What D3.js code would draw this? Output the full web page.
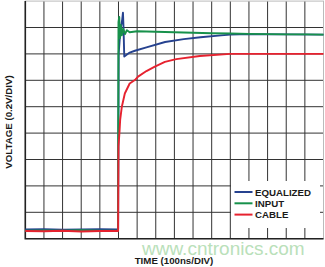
<!DOCTYPE html>
<html lang="en">
<head>
    <meta charset="UTF-8">
    <title>Equalized step response</title>
    <script src="https://d3js.org/d3.v7.min.js"></script>
    <style>
        body { margin: 0; background: #fff; }
        svg { display: block; }
        .lbl { font-family: "Liberation Sans", Arial, sans-serif; font-weight: bold; font-size: 9.7px; fill: #1a1a1a; }
    </style>
</head>
<body>
    <svg id="chart" width="325" height="267"></svg>

    <script>
    // time in divisions (100ns/div), voltage in divisions (0.2V/div)
    const equalized = [
        [0, 0.35], [1, 0.36], [2, 0.34], [3, 0.35], [4, 0.36], [4.98, 0.35],
        [5.01, 7.0], [5.1, 7.9], [5.2, 8.3], [5.24, 8.56], [5.27, 8.0], [5.31, 6.9],
        [5.4, 6.95], [5.6, 7.05], [5.88, 7.12], [6.5, 7.25], [7.5, 7.45], [8.5, 7.56],
        [9.4, 7.63], [10.5, 7.7], [11, 7.73], [12, 7.75], [14, 7.74], [16, 7.73]
    ];

    const input = [
        [0, 0.3], [1, 0.31], [2, 0.3], [3, 0.32], [4, 0.3], [4.97, 0.3],
        [5.0, 8.2], [5.04, 8.4], [5.08, 7.6], [5.12, 8.1], [5.18, 7.7], [5.25, 7.95],
        [5.35, 7.75], [5.45, 7.9], [5.6, 7.82], [6, 7.86], [7, 7.84], [8, 7.82],
        [9, 7.8], [10, 7.78], [11, 7.77], [12, 7.76], [13, 7.75], [14, 7.74],
        [15, 7.74], [16, 7.73]
    ];

    const cable = [
        [0, 0.29], [1, 0.28], [2, 0.3], [3, 0.27], [4, 0.29], [4.98, 0.29],
        [5.0, 3.5], [5.05, 4.0], [5.09, 4.5], [5.18, 5.0], [5.34, 5.5], [5.6, 5.88],
        [5.88, 6.01], [6.05, 6.14], [6.5, 6.35], [6.95, 6.52], [7.49, 6.7], [8.1, 6.8],
        [9.36, 6.92], [11, 7.0], [13, 7.0], [16, 7.0]
    ];

    const series = [
        {name: 'EQUALIZED', color: '#26428f', values: equalized},
        {name: 'INPUT', color: '#17914b', values: input},
        {name: 'CABLE', color: '#e6222f', values: cable}
    ];

    const xDivs = 16, yDivs = 9;

    const svg = d3.select('#chart');

    const x = d3.scaleLinear().domain([0, xDivs]).range([25.3, 323.5]);
    const y = d3.scaleLinear().domain([0, yDivs]).range([238.7, 1.1]);

    // graticule
    const grid = svg.append('g').attr('stroke', '#333').attr('stroke-width', 1);
    grid.selectAll('.vx')
        .data(d3.range(1, xDivs))
        .join('line')
        .attr('x1', d => x(d)).attr('x2', d => x(d))
        .attr('y1', y(yDivs)).attr('y2', y(0));
    grid.selectAll('.hy')
        .data(d3.range(1, yDivs))
        .join('line')
        .attr('y1', d => y(d)).attr('y2', d => y(d))
        .attr('x1', x(0)).attr('x2', x(xDivs));

    svg.append('rect')
        .attr('x', x(0)).attr('y', y(yDivs))
        .attr('width', x(xDivs) - x(0)).attr('height', y(0) - y(yDivs))
        .attr('fill', 'none').attr('stroke', '#bbb').attr('stroke-width', 1);
    // heavier left and bottom edges
    svg.append('path')
        .attr('d', `M${x(0)},${y(yDivs)}V${y(0)}H${x(xDivs)}`)
        .attr('fill', 'none').attr('stroke', '#222').attr('stroke-width', 1.6);

    const line = d3.line()
        .x(d => x(d[0]))
        .y(d => y(d[1]));

    svg.selectAll('.trace')
        .data(series)
        .join('path')
        .attr('class', 'trace')
        .attr('d', d => line(d.values))
        .attr('fill', 'none')
        .attr('stroke', d => d.color)
        .attr('stroke-width', 1.9)
        .attr('stroke-linejoin', 'round');

    // legend
    svg.append('rect')
        .attr('x', 231).attr('y', 181).attr('width', 89).attr('height', 47)
        .attr('fill', '#fff');
    const legend = svg.append('g')
        .selectAll('g')
        .data(series)
        .join('g')
        .attr('transform', (d, i) => `translate(0, ${192 + i * 11.3})`);
    legend.append('line')
        .attr('x1', 234.5).attr('x2', 252.5)
        .attr('stroke', d => d.color).attr('stroke-width', 2);
    legend.append('text')
        .attr('class', 'lbl')
        .attr('x', 255).attr('y', 3.6)
        .text(d => d.name);

    // axis titles
    svg.append('text')
        .attr('class', 'lbl')
        .attr('text-anchor', 'middle')
        .attr('x', 174).attr('y', 263.5)
        .text('TIME (100ns/DIV)');
    svg.append('text')
        .attr('class', 'lbl')
        .attr('text-anchor', 'middle')
        .attr('transform', 'translate(11.5,122) rotate(-90)')
        .text('VOLTAGE (0.2V/DIV)');

    // watermark
    svg.append('text')
        .attr('x', 142).attr('y', 254.5)
        .attr('font-family', '"Liberation Sans", Arial, sans-serif')
        .attr('font-size', 19)
        .attr('fill', '#a9d9a9')
        .attr('opacity', 0.8)
        .text('www.cntronics.com');
    </script>
</body>
</html>
